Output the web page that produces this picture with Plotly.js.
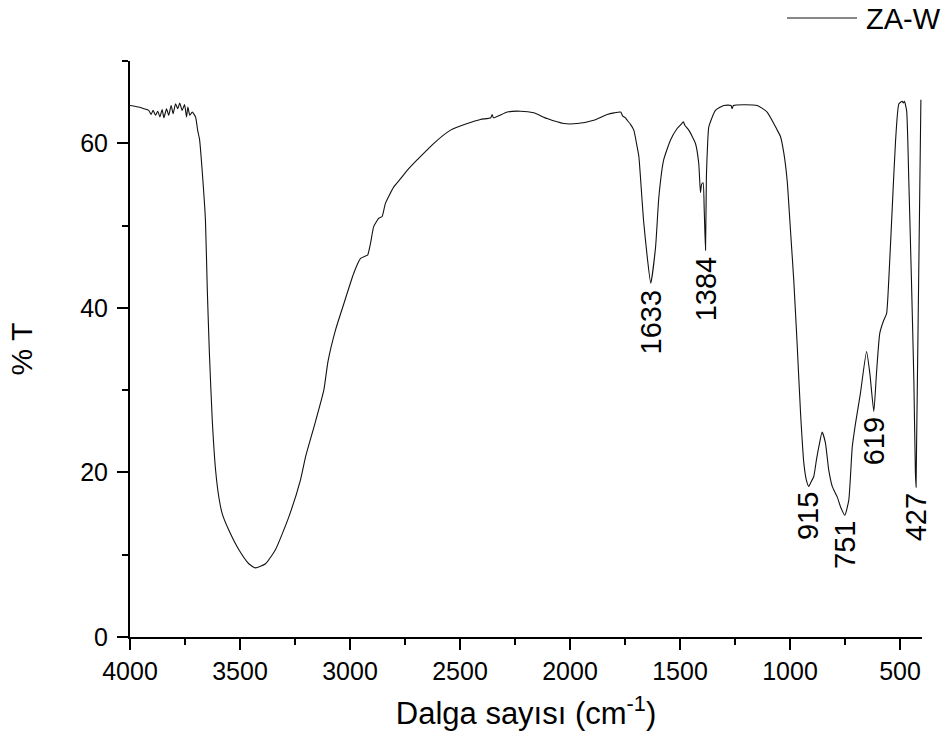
<!DOCTYPE html>
<html>
<head>
<meta charset="utf-8">
<script src="https://cdn.plot.ly/plotly-3.0.1.min.js"></script>
<style>html,body{margin:0;padding:0;background:#fff;}#chart{width:950px;height:745px;}</style>
</head>
<body>
<div id="chart"></div>
<script>
// FT-IR spectrum values
const seriesName = 'ZA-W';
const wavenumber = [
  4000, 3960, 3937, 3915, 3904, 3895, 3884, 3874, 3864, 3854, 3846, 3834, 3824, 3813, 3804, 3793,
  3783, 3774, 3763, 3752, 3743, 3737, 3728, 3717, 3702, 3692, 3684, 3672, 3657, 3649, 3639, 3626,
  3611, 3595, 3581, 3551, 3505, 3460, 3430, 3384, 3339, 3278, 3225, 3202, 3164, 3119, 3100, 3066,
  3028, 2983, 2952, 2930, 2920, 2907, 2892, 2869, 2854, 2839, 2801, 2770, 2740, 2694, 2649, 2619,
  2543, 2467, 2407, 2360, 2354, 2348, 2285, 2225, 2165, 2104, 2028, 1967, 1892, 1831, 1800, 1770,
  1760, 1748, 1740, 1725, 1710, 1695, 1687, 1680, 1666, 1649, 1633, 1611, 1596, 1574, 1543, 1513,
  1495, 1485, 1478, 1460, 1430, 1415, 1407, 1402, 1395, 1390, 1384, 1380, 1375, 1369, 1339, 1301,
  1268, 1263, 1257, 1149, 1104, 1058, 1043, 1028, 1013, 998, 983, 967, 952, 937, 925, 915,
  905, 892, 880, 869, 854, 839, 824, 808, 785, 770, 751, 733, 717, 702, 680, 652,
  637, 619, 607, 592, 574, 561, 551, 535, 520, 505, 490, 485, 480, 470, 460, 448,
  437, 430, 427, 405
];
const transmittance = [
  64.6, 64.4, 64.2, 64.0, 63.5, 64.0, 63.4, 63.9, 63.2, 64.1, 63.1, 64.2, 63.4, 64.6, 63.6, 64.8,
  64.2, 64.9, 64.0, 64.7, 63.2, 64.4, 63.4, 63.8, 63.2, 61.5, 60.5, 56.7, 50.6, 42.5, 34.4, 26.3,
  20.3, 16.8, 15.0, 13.0, 10.6, 8.9, 8.4, 8.9, 10.6, 14.6, 19.1, 21.9, 25.5, 30.0, 33.5, 37.3,
  40.5, 44.2, 46.0, 46.3, 46.4, 47.8, 49.9, 50.9, 51.1, 52.7, 54.7, 55.7, 56.7, 58.0, 59.2, 60.0,
  61.6, 62.4, 62.9, 63.1, 63.5, 63.1, 63.8, 63.9, 63.7, 63.0, 62.4, 62.4, 62.8, 63.5, 63.7, 63.8,
  63.3, 63.1, 62.8, 62.3, 61.6, 59.6, 58.4, 56.0, 50.7, 46.2, 43.0, 47.4, 53.5, 58.0, 60.4, 61.8,
  62.3, 62.6, 62.2, 61.6, 60.0, 57.6, 54.0, 55.0, 55.2, 52.0, 47.0, 56.0, 59.6, 62.0, 64.0, 64.6,
  64.6, 64.2, 64.6, 64.6, 63.8, 61.6, 60.8, 58.8, 55.5, 49.5, 43.4, 35.3, 27.2, 21.1, 19.0, 18.3,
  18.8, 19.5, 21.5, 23.1, 24.9, 23.6, 20.3, 18.3, 17.0, 15.8, 14.8, 16.6, 23.1, 26.0, 29.6, 34.7,
  32.0, 27.4, 32.0, 36.9, 38.5, 39.3, 43.4, 52.3, 60.4, 64.8, 65.1, 64.9, 65.1, 64.0, 55.5, 43.4,
  31.2, 20.0, 18.2, 65.3
];
const peakLabels = [1633, 1384, 915, 751, 619, 427];
const xTickVals = [4000, 3500, 3000, 2500, 2000, 1500, 1000, 500];
const yTickVals = [0, 20, 40, 60];
const xTitle = 'Dalga sayısı (cm<sup>-1</sup>)';
const yTitle = '% T';

const FONT = 'Liberation Sans, Arial, Helvetica, sans-serif';

function peakMin(p) {
  let best = null;
  for (let i = 0; i < wavenumber.length; i++) {
    if (Math.abs(wavenumber[i] - p) <= 10) {
      if (best === null || transmittance[i] < best) best = transmittance[i];
    }
  }
  return best;
}

const W = 950, H = 745;
const margin = {l: 130, r: 28, t: 61, b: 108};
function px2paperX(px) { return (px - margin.l) / (W - margin.l - margin.r); }
function px2paperY(py) { return (H - margin.b - py) / (H - margin.t - margin.b); }

const annotations = peakLabels.map(p => ({
  x: p, y: peakMin(p), xref: 'x', yref: 'y',
  text: String(p), showarrow: false, textangle: -90,
  xanchor: 'center', yanchor: 'top', yshift: -4,
  font: {family: FONT, size: 29, color: '#000'}
}));
// legend text
annotations.push({
  x: px2paperX(864), y: px2paperY(19), xref: 'paper', yref: 'paper', text: seriesName, showarrow: false,
  xanchor: 'left', yanchor: 'middle', font: {family: FONT, size: 29, color: '#000'}
});

const trace = {
  x: wavenumber, y: transmittance, type: 'scatter', mode: 'lines', name: seriesName,
  line: {color: '#111', width: 1.1, shape: 'spline', smoothing: 0.5}, showlegend: false, hoverinfo: 'x+y'
};

const layout = {
  width: W, height: H, margin: margin,
  paper_bgcolor: '#fff', plot_bgcolor: '#fff',
  font: {family: FONT, color: '#000'},
  showlegend: false,
  xaxis: {
    range: [4000, 400], autorange: false,
    tickvals: xTickVals, ticks: 'outside', ticklen: 11, tickwidth: 2, tickcolor: '#000',
    minor: {dtick: 250, tick0: 250, ticks: 'outside', ticklen: 6, tickwidth: 2, tickcolor: '#000', showgrid: false},
    showline: true, linecolor: '#000', linewidth: 2, mirror: false,
    showgrid: false, zeroline: false,
    tickfont: {family: FONT, size: 25, color: '#000'},
    title: {text: xTitle, font: {family: FONT, size: 31, color: '#000'}, standoff: 18}
  },
  yaxis: {
    range: [0, 70], autorange: false,
    tickvals: yTickVals, ticks: 'outside', ticklen: 11, tickwidth: 2, tickcolor: '#000',
    minor: {dtick: 10, tick0: 10, ticks: 'outside', ticklen: 6, tickwidth: 2, tickcolor: '#000', showgrid: false},
    showline: true, linecolor: '#000', linewidth: 2, mirror: false,
    showgrid: false, zeroline: false, ticklabelstandoff: 4,
    tickfont: {family: FONT, size: 25, color: '#000'},
    title: {text: yTitle, font: {family: FONT, size: 30, color: '#000'}, standoff: 39}
  },
  annotations: annotations,
  shapes: [{
    type: 'line', xref: 'paper', yref: 'paper',
    x0: px2paperX(787), x1: px2paperX(857), y0: px2paperY(18), y1: px2paperY(18),
    line: {color: '#111', width: 1.2}
  }]
};

Plotly.newPlot('chart', [trace], layout, {displayModeBar: false, staticPlot: true});
</script>
</body>
</html>
